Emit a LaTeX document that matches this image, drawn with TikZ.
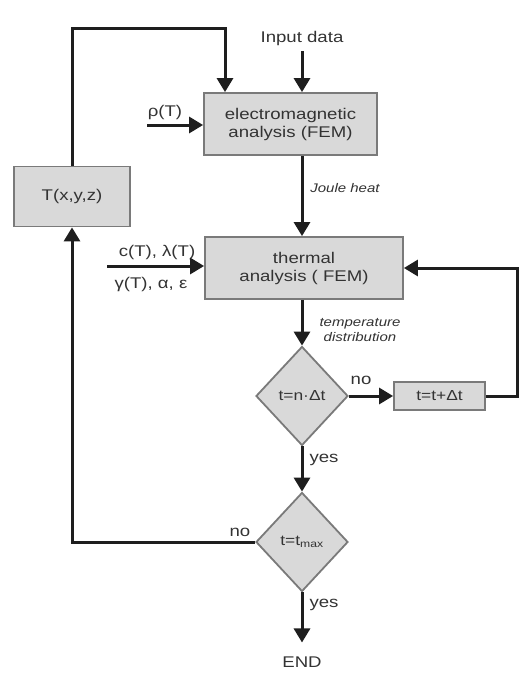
\documentclass[tikz,border=0pt]{standalone}
\usepackage{fontspec}
\setmainfont[FakeStretch=1.2]{Liberation Sans}
\usetikzlibrary{shapes.geometric,arrows.meta}
\definecolor{boxfill}{HTML}{D9D9D9}
\definecolor{boxline}{HTML}{7A7A7A}
\definecolor{txt}{HTML}{333333}
\definecolor{arrc}{HTML}{1E1E1E}
\begin{document}
\begin{tikzpicture}[x=1pt,y=-1pt,
  box/.style={draw=boxline,line width=1.8pt,fill=boxfill,text=txt,align=center,inner sep=0pt,font=\fontsize{15.5}{18}\selectfont},
  dia/.style={diamond,draw=boxline,line width=1.8pt,fill=boxfill,text=txt,inner sep=0pt,minimum width=92pt,minimum height=99pt,font=\fontsize{14.5}{16}\selectfont},
  lbl/.style={text=txt,font=\fontsize{15.5}{18}\selectfont,inner sep=0pt},
  ilbl/.style={text=txt,font=\fontsize{12.5}{15}\itshape\selectfont,inner sep=0pt,align=center},
  arr/.style={draw=arrc,line width=3pt,-{Triangle[length=14pt,width=16pt]}},
  ln/.style={draw=arrc,line width=3pt}]
\useasboundingbox (0,0) rectangle (531,675);
\fill[white] (0,0) rectangle (531,675);
% nodes
\node[lbl] (input) at (302,38) {Input data};
\node[box,minimum width=173pt,minimum height=62pt] (em) at (290.5,124) {electromagnetic\\analysis (FEM)};
\node[box,minimum width=116pt,minimum height=60pt] (T) at (72,196.5) {T(x,y,z)};
\node[box,minimum width=198pt,minimum height=62pt] (th) at (304,268) {thermal\\analysis ( FEM)};
\node[dia] (d1) at (302,396) {t=n·Δt};
\node[box,minimum width=91pt,minimum height=28pt,font=\fontsize{14.5}{16}\selectfont] (inc) at (439.5,396) {t=t+Δt};
\node[dia] (d2) at (302,542) {t=t\textsubscript{max}};
\node[lbl] (end) at (302,662) {END};
% labels
\node[lbl] (rho) at (165,112) {ρ(T)};
\node[lbl] (cl) at (157,252) {c(T), λ(T)};
\node[lbl] (gae) at (151,284) {γ(T), α, ε};
\node[ilbl] (joule) at (345,188) {Joule heat};
\node[ilbl] (tdist) at (360,330) {temperature\\distribution};
\node[lbl] (no1) at (361,380) {no};
\node[lbl] (yes1) at (324,460) {yes};
\node[lbl] (no2) at (240,532) {no};
\node[lbl] (yes2) at (324,605) {yes};
% coordinates
\coordinate (c1) at (225,28);
\coordinate (rhoS) at (147,125);
\coordinate (cinS) at (107,266);
% connectors
\draw[arr] (input.south) ++(0,6) -- (input.south |- em.north);
\draw[arr] (T.north) |- (c1) -- (c1 |- em.north);
\draw[arr] (rhoS) -- (rhoS -| em.west);
\draw[arr] (em.south -| input) -- (th.north -| input);
\draw[arr] (cinS) -- (cinS -| th.west);
\draw[arr] (th.south -| d1) -- (d1.north);
\draw[arr] (d1.east) -- (inc.west);
\draw[arr] (inc.east) -- ++(32,0) |- (th.east);
\draw[arr] (d1.south) -- (d2.north);
\draw[arr] (d2.west) -| (T.south);
\draw[arr,shorten >=14pt] (d2.south) -- (end.north);
\end{tikzpicture}
\end{document}
